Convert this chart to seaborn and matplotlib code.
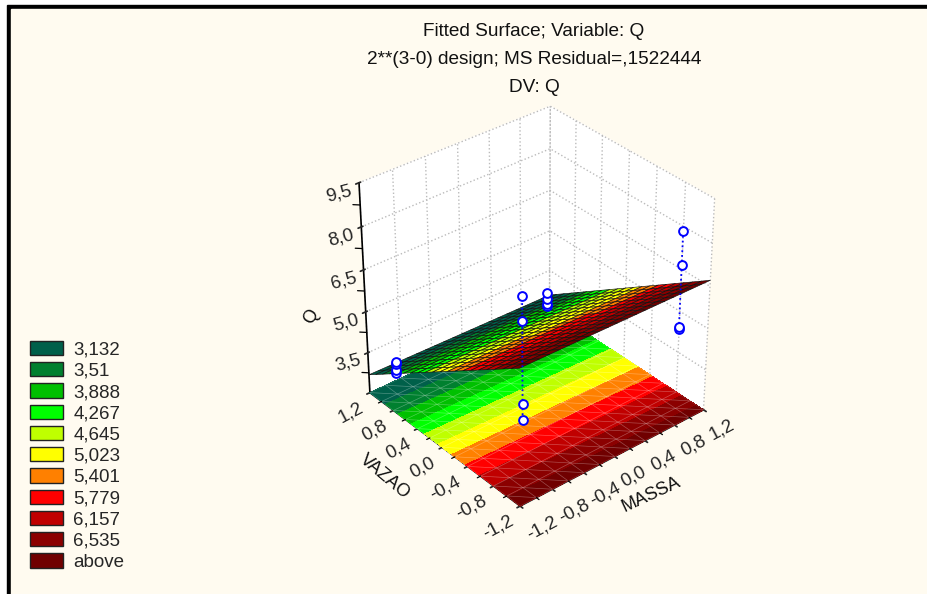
import numpy as np
import matplotlib
matplotlib.use("Agg")
import matplotlib.pyplot as plt
import matplotlib.tri as mtri
from matplotlib.colors import ListedColormap, BoundaryNorm
from matplotlib.patches import Patch, Rectangle
import seaborn as sns

massa = [-1, -1, -1, -1, -1, -1, -1, -1, 1, 1, 1, 1, 1, 1, 1, 1]
vazao = [1, 1, 1, 1, -1, -1, -1, -1, 1, 1, 1, 1, -1, -1, -1, -1]
q_obs = [3.2, 3.15, 2.9, 2.8, 8.65, 7.85, 5.0, 4.45, 3.2, 2.97, 2.74, 2.7, 8.35, 7.2, 5.0, 4.95]

level_labels = ["3,132", "3,51", "3,888", "4,267", "4,645", "5,023",
                "5,401", "5,779", "6,157", "6,535", "above"]
levels = [3.132, 3.51, 3.888, 4.267, 4.645, 5.023, 5.401, 5.779, 6.157, 6.535]
level_colors = ["#00604A", "#00802F", "#00C000", "#00FF00", "#BFFF00", "#FFFF00",
                "#FF8000", "#FF0000", "#C00000", "#8B0000", "#700000"]

ticks_xy = [-1.2, -0.8, -0.4, 0.0, 0.4, 0.8, 1.2]
ticks_xy_labels = ["-1,2", "-0,8", "-0,4", "0,0", "0,4", "0,8", "1,2"]
minor_xy = [-1.0, -0.6, -0.2, 0.2, 0.6, 1.0]
ticks_q = [3.5, 5.0, 6.5, 8.0, 9.5]
ticks_q_labels = ["3,5", "5,0", "6,5", "8,0", "9,5"]
minor_q = [2.75, 4.25, 5.75, 7.25, 8.75]

sns.set_theme(style="white")
plt.rcParams["font.family"] = ["Liberation Sans", "DejaVu Sans"]

W, H = 928, 594
fig = plt.figure(figsize=(W / 100, H / 100), dpi=100, facecolor="white")

# cream page with the black frame on top and left
fig.add_artist(Rectangle((7 / W, 0), 1, 1 - 5 / H, transform=fig.transFigure, color="black", zorder=-3))
fig.add_artist(Rectangle((11 / W, 0), 1, 1 - 9 / H, transform=fig.transFigure, color="#FFFBF0", zorder=-2))

ax = fig.add_axes([264 / W, 1 - 556 / H, 530 / W, 500 / H], projection="3d")
ax.patch.set_alpha(0)
ax.computed_zorder = False
ax.view_init(elev=33.3, azim=-130)
ax.set_proj_type("persp", focal_length=0.8)
ax.set_box_aspect((1, 1, 1.03), zoom=0.83)

# fit with interaction, evaluated on the plotting grid
m = np.array(massa, dtype=float)
v = np.array(vazao, dtype=float)
A = np.column_stack([np.ones_like(m), m, v, m * v])
coef = np.linalg.lstsq(A, np.array(q_obs), rcond=None)[0]


def fitted(a, b):
    return coef[0] + coef[1] * a + coef[2] * b + coef[3] * a * b


cmap = ListedColormap(sns.color_palette(level_colors))
bounds = [-100] + levels + [100]
norm = BoundaryNorm(bounds, cmap.N)

# floor map with its faint triangle mesh
fx, fy = np.meshgrid(np.linspace(-1.2, 1.2, 61), np.linspace(-1.2, 1.2, 61))
ax.contourf(fx, fy, fitted(fx, fy), levels=bounds, cmap=cmap, norm=norm, zdir="z", offset=2, zorder=1)
n = 13
tx, ty = np.meshgrid(np.linspace(-1.2, 1.2, n), np.linspace(-1.2, 1.2, n))
triangles = []
for i in range(n - 1):
    for j in range(n - 1):
        k = i * n + j
        triangles += [[k, k + 1, k + n], [k + 1, k + n + 1, k + n]]
tri = mtri.Triangulation(tx.ravel(), ty.ravel(), triangles)
ax.plot_trisurf(tri, np.full(tx.size, 2.0), color=(0, 0, 0, 0), edgecolor=(1, 1, 1, 0.16),
                linewidth=0.5, shade=False, zorder=2)

# fitted surface
gx, gy = np.meshgrid(np.linspace(-1.2, 1.2, 21), np.linspace(-1.2, 1.2, 21))
ax.plot_surface(gx, gy, fitted(gx, gy), rstride=1, cstride=1, cmap=cmap, norm=norm,
                edgecolor="#111111", linewidth=0.45, shade=False, zorder=3)

# drop lines and points
for mx, vx in [(-1, 1), (-1, -1), (1, 1), (1, -1)]:
    vals = [q for a, b, q in zip(massa, vazao, q_obs) if a == mx and b == vx]
    ax.plot([mx, mx], [vx, vx], [min(vals), max(vals)], color="#0000FF", ls=":", lw=1.3, zorder=4)
ax.scatter(massa, vazao, q_obs, s=40, facecolor="white", edgecolor="#0000FF", linewidth=1.4,
           depthshade=False, alpha=1, zorder=5)

# minor ticks on the three drawn edges
for t in minor_xy:
    ax.plot([t, t], [-1.2, -1.24], [2, 2], color="black", lw=0.9, zorder=6)
    ax.plot([-1.2, -1.24], [t, t], [2, 2], color="black", lw=0.9, zorder=6)
for t in minor_q:
    ax.plot([-1.2, -1.25], [1.2, 1.25], [t, t], color="black", lw=0.9, zorder=6)

ax.set_xlim(-1.2, 1.2)
ax.set_ylim(-1.2, 1.2)
ax.set_zlim(2, 9.5)
ax.set_xticks(ticks_xy, ticks_xy_labels, fontsize=13.5, rotation=28, ha="left")
ax.set_yticks(ticks_xy, ticks_xy_labels, fontsize=13.5, rotation=28, ha="right")
ax.set_zticks(ticks_q, ticks_q_labels, fontsize=13.5, rotation=15)
ax.zaxis.set_ticks_position("upper")
ax.tick_params(axis="x", pad=-4)
ax.tick_params(axis="y", pad=-4)
ax.tick_params(axis="z", pad=3)

for axis in (ax.xaxis, ax.yaxis, ax.zaxis):
    axis.set_pane_color((1, 1, 1, 1))
    axis.pane.set_edgecolor((1, 1, 1, 0))
    axis._axinfo["grid"].update(color="#BBBBBB", linestyle=":", linewidth=1.0)
    axis._axinfo["axisline"]["color"] = "black"
    axis.line.set_color("black")
    axis.line.set_linewidth(1.2)
ax.grid(True)

# axis names
for x, y, txt, rot in [(651, 495, "MASSA", 25), (385, 477, "VAZAO", -40), (311, 317, "Q", 60)]:
    fig.text(x / W, 1 - y / H, txt, ha="center", va="center", fontsize=13, rotation=rot, color="#111111")

# titles
for y, txt in [(31, "Fitted Surface; Variable: Q"),
               (60, "2**(3-0) design; MS Residual=,1522444"),
               (88, "DV: Q")]:
    fig.text(534 / W, 1 - y / H, txt, ha="center", va="center", fontsize=13.7, color="#111111")

handles = [Patch(facecolor=c, edgecolor="#222222", linewidth=1) for c in level_colors]
fig.legend(handles, level_labels, loc="lower left", bbox_to_anchor=(30 / W, 1 - 571 / H),
           frameon=False, fontsize=13.5, handlelength=1.75, handleheight=0.8,
           labelspacing=0.19, handletextpad=0.55, borderpad=0, borderaxespad=0)

fig.savefig("out.png", dpi=100, facecolor=fig.get_facecolor())
